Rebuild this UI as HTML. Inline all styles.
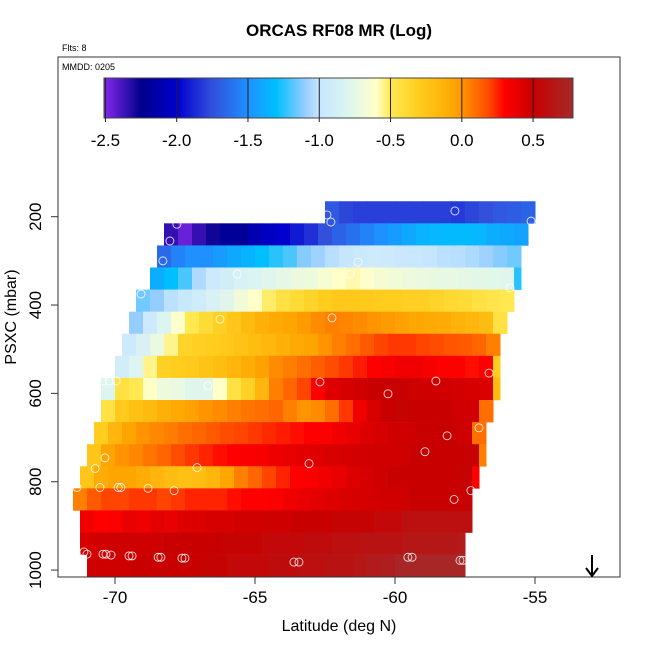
<!DOCTYPE html>
<html><head><meta charset="utf-8"><style>
body{margin:0;background:#fff;}
svg{display:block;font-family:"Liberation Sans",sans-serif;}
</style></head><body>
<svg id="chart" width="650" height="650" viewBox="0 0 650 650">
<text x="339" y="36" text-anchor="middle" font-size="17" font-weight="bold">ORCAS RF08 MR (Log)</text>
<text x="62" y="51" font-size="9">Flts: 8</text>
<g id="cells"></g>
<g id="pts"></g>
<rect x="58" y="57" width="562" height="520" fill="none" stroke="#333" stroke-width="1"/>
<text x="62" y="70" font-size="9">MMDD: 0205</text>
<g id="cbar"></g>
<g id="xaxis"></g>
<g id="yaxis"></g>
<text x="339" y="631" text-anchor="middle" font-size="16">Latitude (deg N)</text>
<text transform="translate(16,317) rotate(-90)" text-anchor="middle" font-size="16">PSXC (mbar)</text>
<g><line x1="592" y1="555" x2="592" y2="575" stroke="#000" stroke-width="2"/><path d="M586,568 L592,576 L598,568" fill="none" stroke="#000" stroke-width="2"/></g>
</svg>
<script>
const rowPressure=[190,240,290,340,390,440,490,540,590,640,690,740,790,840,890,940,990];
const rowStartLat=[-62.5,-68.25,-68.5,-68.75,-69.25,-69.5,-69.75,-70,-70.5,-70.5,-70.75,-71,-71.25,-71.5,-71.25,-71.25,-71];
const rowEndLat=[-55,-55.25,-55.5,-55.5,-55.75,-56,-56.25,-56.25,-56.25,-56.5,-56.75,-56.75,-57,-57.25,-57.25,-57.5,-57.5];
const rowValues=[
[-1.72,-1.78,-1.8,-1.8,-1.8,-1.8,-1.8,-1.8,-1.8,-1.82,-1.78,-1.75,-1.72,-1.7,-1.68],
[-2.35,-2.45,-2.35,-2.28,-2.2,-2.2,-2.1,-2.05,-2.0,-1.92,-1.85,-1.75,-1.68,-1.62,-1.55,-1.5,-1.45,-1.4,-1.35,-1.33,-1.32,-1.32,-1.33,-1.38,-1.4,-1.42],
[-1.65,-1.55,-1.5,-1.5,-1.45,-1.4,-1.35,-1.3,-1.25,-1.2,-1.12,-1.08,-1.03,-1.0,-0.96,-0.93,-0.95,-0.97,-0.98,-1.0,-1.02,-1.03,-1.05,-1.08,-1.12,-1.15],
[-1.38,-1.3,-1.2,-1.05,-0.95,-0.9,-0.85,-0.82,-0.78,-0.75,-0.72,-0.7,-0.65,-0.6,-0.58,-0.62,-0.66,-0.68,-0.7,-0.72,-0.73,-0.74,-0.75,-0.76,-0.77,-0.78,-1.25],
[-1.15,-1.1,-1.02,-0.98,-0.92,-0.85,-0.78,-0.68,-0.6,-0.52,-0.45,-0.4,-0.35,-0.3,-0.27,-0.27,-0.28,-0.3,-0.3,-0.32,-0.32,-0.35,-0.38,-0.4,-0.45,-0.48,-0.5],
[-1.1,-0.95,-0.8,-0.62,-0.5,-0.4,-0.32,-0.25,-0.18,-0.12,-0.08,-0.05,-0.02,0.02,0.05,0.04,0.02,0.0,-0.02,-0.04,-0.06,-0.08,-0.1,-0.13,-0.16,-0.2,-0.45],
[-0.95,-0.85,-0.72,-0.55,-0.35,-0.32,-0.3,-0.27,-0.24,-0.2,-0.16,-0.12,-0.08,-0.05,0.0,0.05,0.1,0.15,0.2,0.22,0.22,0.2,0.18,0.16,0.15,0.12,0.05],
[-0.9,-0.8,-0.55,-0.33,-0.3,-0.28,-0.24,-0.2,-0.15,-0.1,-0.04,0.02,0.06,0.1,0.14,0.18,0.22,0.26,0.3,0.33,0.35,0.35,0.33,0.3,0.3,0.28,0.3,-0.3],
[-0.8,-0.45,-0.5,-0.6,-0.7,-0.72,-0.78,-0.78,-0.6,-0.45,-0.33,-0.15,0.05,0.12,0.2,0.32,0.42,0.45,0.48,0.5,0.5,0.5,0.48,0.47,0.47,0.46,0.45,0.43,-0.2],
[-0.45,-0.28,-0.22,-0.18,-0.12,-0.08,-0.04,0.0,0.02,0.05,0.08,0.1,0.12,0.05,0.0,0.02,0.1,0.22,0.35,0.45,0.5,0.52,0.5,0.5,0.5,0.48,0.47,0.1],
[-0.3,-0.15,-0.05,0.0,0.03,0.06,0.1,0.12,0.15,0.18,0.2,0.22,0.24,0.26,0.28,0.3,0.32,0.35,0.38,0.42,0.45,0.47,0.48,0.5,0.5,0.5,0.48,0.1],
[-0.25,-0.05,0.0,0.03,0.08,0.12,0.18,0.22,0.25,0.28,0.3,0.32,0.33,0.36,0.38,0.4,0.42,0.44,0.45,0.46,0.47,0.47,0.48,0.5,0.5,0.5,0.5,0.52,0.05],
[-0.25,-0.1,-0.05,-0.05,-0.1,-0.15,-0.2,-0.22,-0.2,-0.15,-0.05,0.05,0.12,0.2,0.25,0.3,0.32,0.35,0.38,0.42,0.45,0.48,0.5,0.5,0.5,0.5,0.5,0.52,0.3],
[0.05,0.15,0.2,0.2,0.22,0.22,0.2,0.22,0.25,0.25,0.25,0.28,0.3,0.3,0.32,0.35,0.38,0.4,0.42,0.44,0.45,0.46,0.47,0.48,0.5,0.5,0.5,0.5,0.52],
[0.35,0.3,0.32,0.38,0.35,0.4,0.38,0.42,0.42,0.45,0.45,0.47,0.47,0.48,0.48,0.5,0.5,0.5,0.52,0.52,0.52,0.55,0.55,0.6,0.6,0.6,0.6,0.6,0.6],
[0.45,0.47,0.48,0.48,0.48,0.48,0.5,0.5,0.5,0.5,0.52,0.52,0.52,0.55,0.55,0.55,0.58,0.58,0.6,0.6,0.62,0.62,0.62,0.65,0.65,0.65,0.65,0.68],
[0.48,0.48,0.48,0.5,0.5,0.5,0.5,0.5,0.52,0.52,0.55,0.55,0.55,0.58,0.58,0.6,0.6,0.62,0.62,0.65,0.68,0.7,0.75,0.75,0.75,0.75,0.75]
];
const pointLat=[-57.86,-55.14,-62.43,-62.29,-67.79,-68.04,-68.29,-61.32,-65.64,-61.61,-55.89,-69.07,-66.25,-62.25,-62.68,-58.54,-56.64,-70.43,-70.21,-69.96,-66.68,-60.25,-57.0,-58.14,-58.93,-63.07,-70.36,-70.71,-67.07,-71.36,-70.54,-69.89,-69.79,-68.82,-67.89,-57.89,-57.29,-71.11,-71.0,-70.43,-70.32,-70.14,-69.5,-69.39,-68.46,-68.36,-67.61,-67.5,-63.61,-63.43,-59.54,-59.39,-57.68,-57.57];
const pointPres=[187,210,196,212,217,255,300,303,330,330,361,375,432,429,574,572,554,572,572,572,583,601,678,696,732,759,746,770,768,813,813,813,813,815,820,840,820,959,964,964,964,966,968,968,971,971,973,973,982,982,971,971,978,978];
const cbarTicks=[-2.5,-2.0,-1.5,-1.0,-0.5,0.0,0.5];
const cbarTickLabels=["-2.5","-2.0","-1.5","-1.0","-0.5","0.0","0.5"];
const xTicks=[-70,-65,-60,-55];
const yTicks=[200,400,600,800,1000];
const cbarMin=-2.51, cbarMax=0.78;
const colorStops=[[-2.5,[130,40,235]],[-2.25,[0,0,140]],[-2.0,[0,0,205]],[-1.75,[50,80,220]],[-1.5,[30,144,255]],[-1.3,[0,191,255]],[-1.1,[150,205,255]],[-1.0,[198,230,255]],[-0.8,[220,245,240]],[-0.6,[255,255,200]],[-0.5,[255,232,80]],[-0.3,[255,205,30]],[-0.05,[255,165,0]],[0.1,[255,110,0]],[0.2,[255,69,0]],[0.3,[255,0,0]],[0.5,[200,0,0]],[0.78,[165,42,42]]];

const NS='http://www.w3.org/2000/svg';
function xS(lat){return 115+(lat+70)*28;}
function yS(p){return 216.7+(p-200)*0.4417;}
function cbX(v){return 104+(v-cbarMin)/(cbarMax-cbarMin)*469;}
function color(v){
  if(v<=colorStops[0][0])return 'rgb('+colorStops[0][1]+')';
  for(let i=1;i<colorStops.length;i++){
    if(v<=colorStops[i][0]){const a=colorStops[i-1],b=colorStops[i];const t=(v-a[0])/(b[0]-a[0]);
      return 'rgb('+a[1].map((c,k)=>Math.round(c+(b[1][k]-c)*t)).join(',')+')';}
  }
  return 'rgb('+colorStops[colorStops.length-1][1]+')';
}
function mk(tag,attrs,parent){const e=document.createElementNS(NS,tag);for(const k in attrs)e.setAttribute(k,attrs[k]);parent.appendChild(e);return e;}

const cells=document.getElementById('cells');
rowValues.forEach((vals,r)=>{
  const y0=yS(rowPressure[r]-25),y1=yS(rowPressure[r]+25);
  const end=xS(rowEndLat[r]);
  vals.forEach((v,i)=>{
    const x0=xS(rowStartLat[r]+i*0.5);
    const x1=Math.min(xS(rowStartLat[r]+(i+1)*0.5),end);
    if(x1<=x0)return;
    const c=mk('rect',{x:x0,y:y0,width:x1-x0+0.5,height:y1-y0+0.3,fill:color(v)},cells);
    
    
  });
});
const pts=document.getElementById('pts');
pointLat.forEach((lat,i)=>{
  const c=mk('circle',{cx:xS(lat),cy:yS(pointPres[i]),r:4,fill:'none',stroke:'#fff','stroke-width':0.9,opacity:0.85},pts);
  
  
});
const cb=document.getElementById('cbar');
for(let x=104;x<573;x++){
  const v=cbarMin+(x+0.5-104)/469*(cbarMax-cbarMin);
  mk('rect',{x:x,y:78,width:1.2,height:40,fill:color(v)},cb);
}
mk('rect',{x:104,y:78,width:469,height:40,fill:'none',stroke:'#444','stroke-width':1},cb);
cbarTicks.forEach((t,i)=>{
  const x=cbX(t);
  mk('line',{x1:x,y1:78,x2:x,y2:122,stroke:'#222','stroke-width':1},cb);
  const tx=mk('text',{x:x,y:146,'text-anchor':'middle','font-size':17},cb);
  tx.textContent=cbarTickLabels[i];
  
  
});
const xa=document.getElementById('xaxis');
xTicks.forEach(t=>{
  const x=xS(t);
  mk('line',{x1:x,y1:577,x2:x,y2:584,stroke:'#333'},xa);
  const tx=mk('text',{x:x,y:603,'text-anchor':'middle','font-size':17},xa);
  tx.textContent=String(t);
  
  
});
const ya=document.getElementById('yaxis');
yTicks.forEach(t=>{
  const y=yS(t);
  mk('line',{x1:51,y1:y,x2:58,y2:y,stroke:'#333'},ya);
  const tx=mk('text',{x:0,y:0,'text-anchor':'middle','font-size':17,transform:'translate(41,'+y+') rotate(-90)'},ya);
  tx.textContent=String(t);
  
  
});
</script>
</body></html>
